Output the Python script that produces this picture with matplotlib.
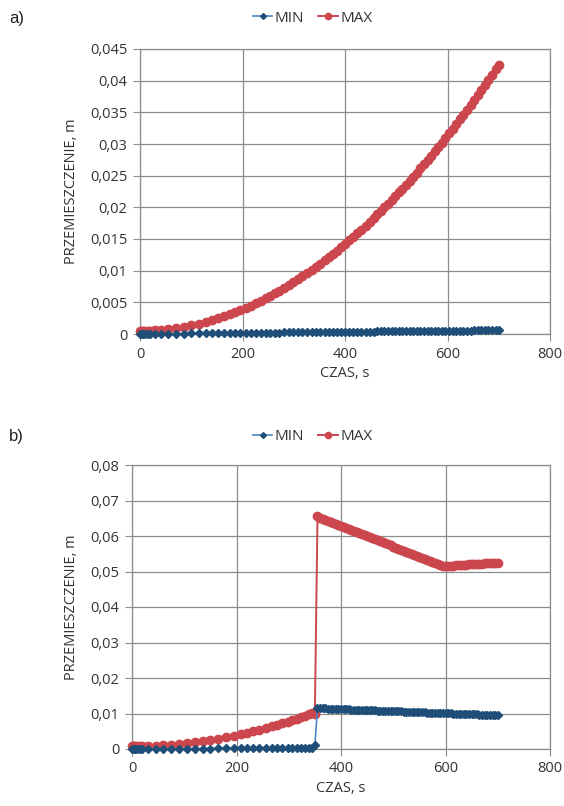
import matplotlib
matplotlib.use("Agg")
import matplotlib.pyplot as plt
from matplotlib.ticker import FuncFormatter, MultipleLocator

# ---------------- data: panel a ----------------
time_a = [0, 3, 6, 10, 15, 20, 30, 40, 55, 70, 85, 100, 115, 128, 140, 152, 164, 175, 186, 196,
          206, 216, 226, 236, 245, 254, 263, 272, 281, 290, 299, 308, 317, 326, 335, 344, 352, 360,
          368, 376, 384, 392, 400, 408, 416, 424, 432, 440, 448, 456, 463, 470, 477, 484, 491, 498,
          505, 512, 519, 526, 533, 540, 547, 554, 561, 568, 575, 582, 589, 596, 603, 610, 617, 624,
          631, 638, 645, 652, 659, 666, 673, 680, 687, 694, 700]
max_a = [0.0005, 0.0005, 0.0005, 0.00051, 0.00052, 0.00053, 0.00058, 0.00064, 0.00076, 0.00092,
         0.00112, 0.00136, 0.00163, 0.0019, 0.00218, 0.00248, 0.00281, 0.00312, 0.00346, 0.00379,
         0.00414, 0.0045, 0.00488, 0.00527, 0.00564, 0.00603, 0.00643, 0.00684, 0.00727, 0.00771,
         0.00816, 0.00863, 0.00911, 0.00961, 0.01012, 0.01064, 0.01112, 0.01161, 0.01211, 0.01262,
         0.01314, 0.01367, 0.01421, 0.01477, 0.01533, 0.01591, 0.01649, 0.01709, 0.0177, 0.01832,
         0.01887, 0.01943, 0.02, 0.02058, 0.02116, 0.02175, 0.02236, 0.02297, 0.02359, 0.02421,
         0.02485, 0.02549, 0.02614, 0.0268, 0.02747, 0.02815, 0.02883, 0.02953, 0.03023, 0.03094,
         0.03166, 0.03239, 0.03313, 0.03387, 0.03462, 0.03538, 0.03615, 0.03693, 0.03772, 0.03851,
         0.03932, 0.04013, 0.04095, 0.04178, 0.0425]
min_a = [0.0, 0.0, 0.00001, 0.00001, 0.00001, 0.00002, 0.00003, 0.00003, 0.00005, 0.00006,
         0.00007, 0.00009, 0.0001, 0.00011, 0.00012, 0.00013, 0.00014, 0.00015, 0.00016, 0.00017,
         0.00018, 0.00019, 0.00019, 0.0002, 0.00021, 0.00022, 0.00023, 0.00023, 0.00024, 0.00025,
         0.00026, 0.00026, 0.00027, 0.00028, 0.00029, 0.00029, 0.0003, 0.00031, 0.00032, 0.00032,
         0.00033, 0.00034, 0.00034, 0.00035, 0.00036, 0.00036, 0.00037, 0.00038, 0.00038, 0.00039,
         0.0004, 0.0004, 0.00041, 0.00041, 0.00042, 0.00043, 0.00043, 0.00044, 0.00044, 0.00045,
         0.00046, 0.00046, 0.00047, 0.00047, 0.00048, 0.00049, 0.00049, 0.0005, 0.0005, 0.00051,
         0.00052, 0.00052, 0.00053, 0.00053, 0.00054, 0.00055, 0.00055, 0.00056, 0.00056, 0.00057,
         0.00058, 0.00058, 0.00059, 0.00059, 0.0006]

# ---------------- data: panel b ----------------
time_b_pre = [0, 3, 6, 10, 15, 20, 30, 45, 60, 75, 90, 105, 120, 135, 150, 165, 180, 195, 208,
              220, 232, 244, 256, 268, 278, 288, 298, 307, 316, 324, 332, 339, 345, 350]
max_b_pre = [0.0008, 0.0008, 0.0008, 0.00081, 0.00082, 0.00083, 0.00087, 0.00096, 0.00108,
             0.00124, 0.00143, 0.00166, 0.00192, 0.00222, 0.00256, 0.00292, 0.00333, 0.00377,
             0.00417, 0.00458, 0.005, 0.00544, 0.00591, 0.0064, 0.00683, 0.00727, 0.00773,
             0.00815, 0.00859, 0.00899, 0.0094, 0.00976, 0.01008, 0.0100]
min_b_pre = [0.0001, 0.0001, 0.0001, 0.0001, 0.0001, 0.0001, 0.0001, 0.0001, 0.00012, 0.00012,
             0.00012, 0.00013, 0.00013, 0.00014, 0.00014, 0.00015, 0.00015, 0.00016, 0.00016,
             0.00017, 0.00017, 0.00018, 0.00018, 0.00019, 0.00019, 0.0002, 0.0002, 0.00021,
             0.00021, 0.00022, 0.00022, 0.00023, 0.00024, 0.0011]
time_b_post = [355, 360, 365, 370, 375, 380, 385, 390, 395, 400, 405, 410, 415, 420, 425, 430,
               435, 440, 445, 450, 455, 460, 465, 470, 475, 480, 485, 490, 495, 500, 505, 510,
               515, 520, 525, 530, 535, 540, 545, 550, 555, 560, 565, 570, 575, 580, 585, 590,
               595, 600, 605, 610, 615, 620, 625, 630, 635, 640, 645, 650, 655, 660, 665, 670,
               675, 680, 685, 690, 695, 700]
max_b_post = [0.0655, 0.06521, 0.06492, 0.06463, 0.06433, 0.06404, 0.06375, 0.06346, 0.06317,
              0.06288, 0.06258, 0.06229, 0.062, 0.06171, 0.06142, 0.06113, 0.06083, 0.06054,
              0.06025, 0.05996, 0.05967, 0.05938, 0.05908, 0.05879, 0.0585, 0.05821, 0.05792,
              0.05763, 0.05733, 0.05704, 0.05675, 0.05646, 0.05617, 0.05588, 0.05558, 0.05529,
              0.055, 0.05471, 0.05442, 0.05413, 0.05383, 0.05354, 0.05325, 0.05296, 0.05267,
              0.05238, 0.05208, 0.05179, 0.0515, 0.05155, 0.0516, 0.05164, 0.05169, 0.05174,
              0.05179, 0.05183, 0.05188, 0.05193, 0.05198, 0.05202, 0.05207, 0.05212, 0.05217,
              0.05221, 0.05226, 0.05231, 0.05236, 0.0524, 0.05245, 0.0525]
min_b_post = [0.0115, 0.01147, 0.01144, 0.01141, 0.01138, 0.01136, 0.01133, 0.0113, 0.01127,
              0.01124, 0.01121, 0.01118, 0.01115, 0.01112, 0.01109, 0.01107, 0.01104, 0.01101,
              0.01098, 0.01095, 0.01092, 0.01089, 0.01086, 0.01083, 0.0108, 0.01078, 0.01075,
              0.01072, 0.01069, 0.01066, 0.01063, 0.0106, 0.01057, 0.01054, 0.01051, 0.01049,
              0.01046, 0.01043, 0.0104, 0.01037, 0.01034, 0.01031, 0.01028, 0.01025, 0.01022,
              0.0102, 0.01017, 0.01014, 0.01011, 0.01008, 0.01005, 0.01002, 0.00999, 0.00996,
              0.00993, 0.00991, 0.00988, 0.00985, 0.00982, 0.00979, 0.00976, 0.00973, 0.0097,
              0.00967, 0.00964, 0.00962, 0.00959, 0.00956, 0.00953, 0.0095]

time_b = time_b_pre + time_b_post
max_b = max_b_pre + max_b_post
min_b = min_b_pre + min_b_post

x_ticks = [0, 200, 400, 600, 800]
series_names = ["MIN", "MAX"]
x_label = "CZAS, s"
y_label = "PRZEMIESZCZENIE, m"
panel_labels = ["a)", "b)"]

# ---------------- style ----------------
FONT = "Open Sans"
plt.rcParams["font.family"] = [FONT, "DejaVu Sans"]
GRID = "#8c8c8c"
BLUE_LINE = "#4a86c5"
BLUE_MK = "#1f4e79"
RED = "#cc474d"
TXT = "#333333"
FS = 10.5


def comma_fmt(v, pos):
    if abs(v) < 1e-12:
        return "0"
    s = ("%.3f" % v).rstrip("0").rstrip(".")
    return s.replace(".", ",")


fig = plt.figure(figsize=(5.64, 8.06), dpi=100)

panels = [
    dict(rect=[140 / 564, 1 - 334 / 806, 410 / 564, 285 / 806], t=time_a, mn=min_a, mx=max_a,
         ymax=0.045, ystep=0.005, leg_y=1 - 18 / 806, lab_y=1 - 18 / 806),
    dict(rect=[132 / 564, 1 - 749 / 806, 418 / 564, 284 / 806], t=time_b, mn=min_b, mx=max_b,
         ymax=0.08, ystep=0.01, leg_y=1 - 437 / 806, lab_y=1 - 436 / 806),
]

for p, plab in zip(panels, panel_labels):
    ax = fig.add_axes(p["rect"])
    ax.plot(p["t"], p["mx"], color=RED, lw=1.4, marker="o", ms=6.0, mfc=RED, mec=RED,
            label=series_names[1], clip_on=False, zorder=3)
    ax.plot(p["t"], p["mn"], color=BLUE_LINE, lw=1.2, marker="D", ms=4.0, mfc=BLUE_MK,
            mec=BLUE_MK, label=series_names[0], clip_on=False, zorder=4)
    ax.set_xlim(0, 800)
    ax.set_ylim(0, p["ymax"])
    ax.set_xticks(x_ticks)
    ax.yaxis.set_major_locator(MultipleLocator(p["ystep"]))
    ax.yaxis.set_major_formatter(FuncFormatter(comma_fmt))
    ax.grid(True, color=GRID, lw=0.9)
    ax.set_axisbelow(True)
    for s in ax.spines.values():
        s.set_color(GRID)
        s.set_linewidth(0.9)
    ax.tick_params(axis="both", direction="out", length=5, color=GRID, labelsize=FS,
                   labelcolor=TXT, pad=4)
    ax.set_xlabel(x_label, fontsize=FS, color=TXT, labelpad=3)
    ax.set_ylabel(y_label, fontsize=FS, color=TXT, labelpad=8)
    handles, labels = ax.get_legend_handles_labels()
    order = [labels.index("MIN"), labels.index("MAX")]
    leg = fig.legend([handles[i] for i in order], [labels[i] for i in order],
                     loc="center", bbox_to_anchor=(0.554, p["leg_y"]), ncol=2, frameon=False,
                     fontsize=11, handlelength=1.3, handletextpad=0.15, columnspacing=0.9,
                     markerscale=0.75)
    for t in leg.get_texts():
        t.set_color(TXT)
    fig.text(9 / 564, p["lab_y"], plab, fontsize=12, family=["Liberation Sans", "DejaVu Sans"],
             color="#222222", va="center", ha="left")

fig.savefig("out.png", dpi=100)
